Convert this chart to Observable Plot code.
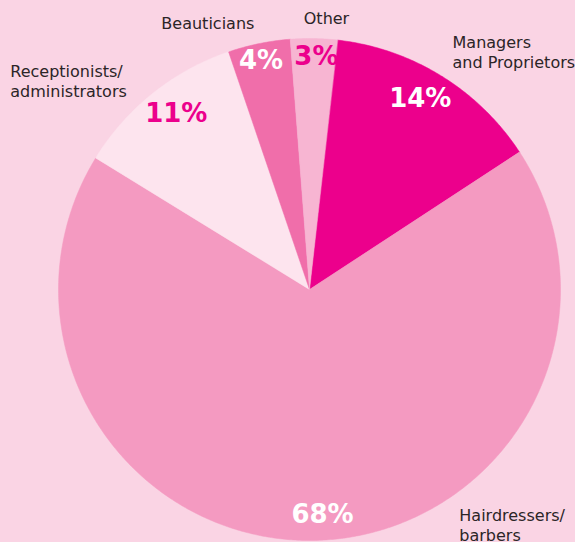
<!DOCTYPE html>
<html>
<head>
<meta charset="utf-8">
<script src="https://cdn.jsdelivr.net/npm/d3@7"></script>
<script src="https://cdn.jsdelivr.net/npm/@observablehq/plot@0.6"></script>
<style>
  html, body { margin: 0; padding: 0; background: #fad4e4; }
  #chart svg { display: block; }
</style>
</head>
<body>
<div id="chart"></div>
<script>
// ---- data ----
const categories = ["Managers\nand Proprietors", "Hairdressers/\nbarbers", "Receptionists/\nadministrators", "Beauticians", "Other"];
const keys = ["managers", "hairdressers", "receptionists", "beauticians", "other"];
const values = [14, 68, 11, 4, 3];
const percentLabels = ["14%", "68%", "11%", "4%", "3%"];
const sliceColors = ["#ec008c", "#f49ac1", "#fde4ee", "#f06eaa", "#f7b5d2"];
const percentColors = ["#ffffff", "#ffffff", "#ec008c", "#ffffff", "#ec008c"];

// ---- layout (styles / positions, not data) ----
const startAngle = 6.4 * Math.PI / 180;
const pctRadius = [0.88, 0.90, 0.88, 0.93, 0.93];
const pctAngleShift = [-1.5, -2.5, 1.5, -0.4, 0.7]; // degrees
const nameAngle = [31.2, 147.7, 304.7, 339, 3.6];    // degrees
const nameRadius = [1.10, 1.117, 1.45, 1.13, 1.078];
const nameAnchor = ["start", "start", "start", "middle", "middle"];

const arcs = d3.pie().sort(null).startAngle(startAngle).endAngle(startAngle + 2 * Math.PI)(values);

// polygon points for each slice in unit-circle coordinates (y up)
const points = [];
arcs.forEach((a, i) => {
  points.push({key: keys[i], color: sliceColors[i], x: 0, y: 0});
  const n = Math.max(2, Math.ceil((a.endAngle - a.startAngle) / (Math.PI / 360)));
  for (let k = 0; k <= n; k++) {
    const t = a.startAngle + (a.endAngle - a.startAngle) * k / n;
    points.push({key: keys[i], color: sliceColors[i], x: Math.sin(t), y: Math.cos(t)});
  }
});

const pctData = arcs.map((a, i) => {
  const m = (a.startAngle + a.endAngle) / 2 + pctAngleShift[i] * Math.PI / 180;
  return {text: percentLabels[i], color: percentColors[i], x: pctRadius[i] * Math.sin(m), y: pctRadius[i] * Math.cos(m)};
});
const nameData = categories.map((c, i) => {
  const m = nameAngle[i] * Math.PI / 180;
  return {text: c, anchor: nameAnchor[i], x: nameRadius[i] * Math.sin(m), y: nameRadius[i] * Math.cos(m)};
});

const font = "'DejaVu Sans', Verdana, sans-serif";
const nameStyle = {x: "x", y: "y", text: "text", fill: "#2b2527", fontSize: 16, lineHeight: 1.25, dy: -2, fontFamily: font};

const chart = Plot.plot({
  width: 575,
  height: 542,
  margin: 0,
  style: {background: "#fad4e4", fontFamily: font},
  x: {domain: [-1, 1], range: [58, 560], axis: null},
  y: {domain: [-1, 1], range: [540, 38], axis: null},
  marks: [
    Plot.line(points, {x: "x", y: "y", z: "key", fill: "color", stroke: "color", strokeWidth: 0.5, curve: "linear-closed"}),
    Plot.text(pctData, {x: "x", y: "y", text: "text", fill: "color", fontSize: 26, fontWeight: "bold", fontFamily: font}),
    Plot.text(nameData.filter(d => d.anchor === "start"), {...nameStyle, textAnchor: "start"}),
    Plot.text(nameData.filter(d => d.anchor === "middle"), {...nameStyle, textAnchor: "middle"})
  ]
});
document.getElementById("chart").appendChild(chart);
</script>
</body>
</html>
